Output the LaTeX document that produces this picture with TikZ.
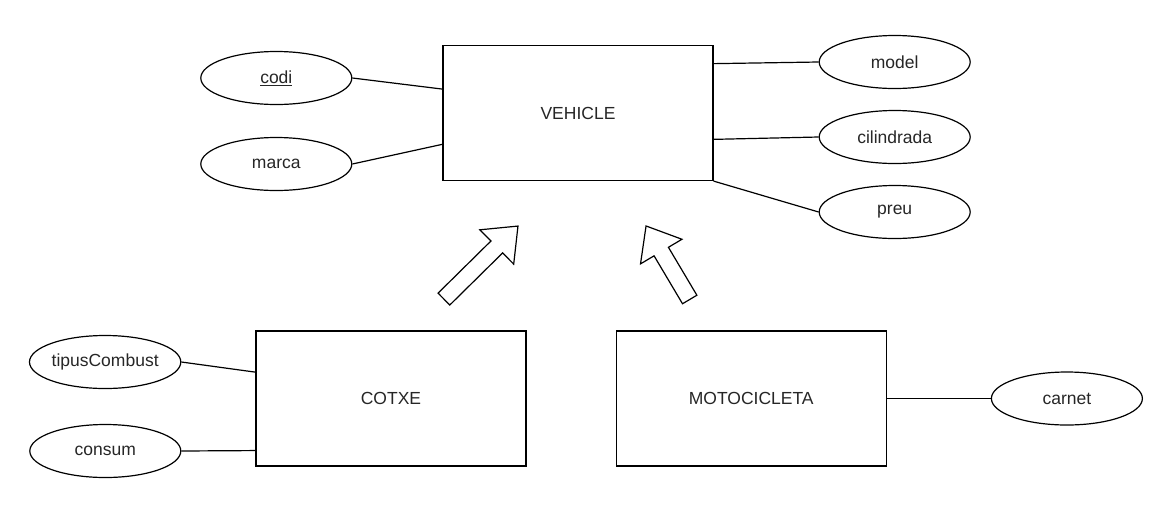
\documentclass[tikz,border=0pt]{standalone}
\usepackage{fontspec}
\setmainfont{Liberation Sans}
\usetikzlibrary{positioning,calc,shapes.geometric,shapes.arrows}

\begin{document}
\begin{tikzpicture}[
    x=1pt, y=-1pt,
    txt/.style={font=\fontsize{17.5}{20}\selectfont, text=black!85},
    ent/.style={txt, draw, line width=1.2pt, minimum width=270pt, minimum height=135pt, inner sep=0pt},
    attr/.style={txt, draw, ellipse, line width=1.2pt, minimum width=151pt, minimum height=53pt, inner sep=0pt},
    lnk/.style={line width=1.2pt},
    isa/.style={single arrow, draw, line width=1.2pt, inner xsep=0pt, inner ysep=7.75pt, anchor=tail,
        minimum width=47pt, single arrow head extend=15.75pt, single arrow tip angle=78}
]
    \useasboundingbox (0,0) rectangle (1172,512);

    % Entities
    \node[ent] (vehicle) at (578,113) {VEHICLE};
    \node[ent] (cotxe) at (391,398.5) {COTXE};
    \node[ent, right=89pt of cotxe] (moto) {MOTOCICLETA};

    % Attributes of VEHICLE
    \node[attr, left=90pt of vehicle.west, yshift=35pt] (codi) {\underline{codi}};
    \node[attr, left=90pt of vehicle.west, yshift=-51pt] (marca) {marca};
    \node[attr, right=105pt of vehicle.east, yshift=51pt] (model) {model};
    \node[attr, right=105pt of vehicle.east, yshift=-24pt] (cilindrada) {cilindrada};
    \node[attr, right=105pt of vehicle.east, yshift=-99pt] (preu) {preu};

    % Attributes of COTXE and MOTOCICLETA
    \node[attr, left=74pt of cotxe.west, yshift=36.5pt] (tipus) {tipusCombust};
    \node[attr, left=74pt of cotxe.west, yshift=-52.5pt] (consum) {consum};
    \node[attr, right=104pt of moto] (carnet) {carnet};

    \draw[lnk] (codi.east) -- (vehicle.170.7);
    \draw[lnk] (marca.east) -- (vehicle.193.3);
    \draw[lnk] (vehicle.20.7) -- (model.west);
    \draw[lnk] (vehicle.349.9) -- (cilindrada.west);
    \draw[lnk] (vehicle.south east) -- (preu.west);

    \draw[lnk] (tipus.east) -- (cotxe.169.3);
    \draw[lnk] (consum.east) -- (cotxe.201.25);
    \draw[lnk] (moto.east) -- (carnet.west);

    % Generalisation
    \node[isa, rotate=44.6, minimum height=104pt] (isacotxe) at (443.5,299.5) {};
    \node[isa, rotate=120.7, minimum height=85.5pt] (isamoto) at (690,300) {};
\end{tikzpicture}
\end{document}
